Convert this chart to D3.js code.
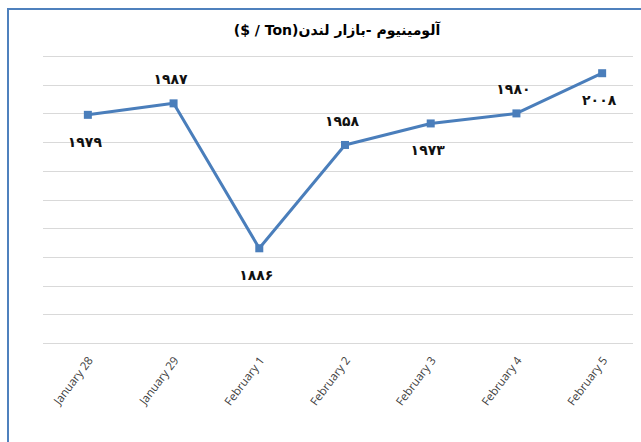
<!DOCTYPE html>
<html>
<head>
<meta charset="utf-8">
<script src="https://cdn.jsdelivr.net/npm/d3@7"></script>
<style>
  body { margin: 0; background: #fff; }
  svg { display: block; }
</style>
</head>
<body>
<div id="chart"></div>
<script>
// chart data
var dates = ["January 28", "January 29", "February 1", "February 2", "February 3", "February 4", "February 5"];
var prices = [1979, 1987, 1886, 1958, 1973, 1980, 2008];
var labelSide = ["below", "above", "below", "above", "below", "above", "below"];
var yTicks = [1820, 1840, 1860, 1880, 1900, 1920, 1940, 1960, 1980, 2000, 2020];
// unit part kept left-to-right inside the rtl title
var title = "آلومینیوم -بازار لندن\u2066($ / Ton)\u2069";

var width = 641, height = 442;

// turn latin digits into persian ones for the data labels
function faDigits(n) {
    return String(n).replace(/\d/g, function (c) { return "۰۱۲۳۴۵۶۷۸۹"[+c]; });
}

var svg = d3.select("#chart")
    .append("svg")
    .attr("width", width)
    .attr("height", height);

// chart frame
svg.append("rect")
    .attr("x", 8)
    .attr("y", 9)
    .attr("width", width + 10)
    .attr("height", height + 10)
    .attr("fill", "#fff")
    .attr("stroke", "#4f81bd")
    .attr("stroke-width", 2);

var x = d3.scalePoint()
    .domain(dates)
    .range([45, 645])
    .padding(0.5);

var y = d3.scaleLinear()
    .domain([1820, 2020])
    .range([343, 56]);

// gridlines
svg.append("g")
    .attr("class", "grid")
    .selectAll("line")
    .data(yTicks)
    .enter()
    .append("line")
    .attr("x1", 43)
    .attr("x2", 633)
    .attr("y1", function (d) { return Math.round(y(d)) + 0.5; })
    .attr("y2", function (d) { return Math.round(y(d)) + 0.5; })
    .attr("stroke", "#d9d9d9")
    .attr("stroke-width", 1.2);

// x axis labels
var xAxis = svg.append("g")
    .attr("transform", "translate(0," + 343 + ")")
    .call(d3.axisBottom(x).tickSize(0).tickPadding(0));
xAxis.select(".domain").remove();
xAxis.selectAll("text")
    .attr("font-family", "Open Sans, sans-serif")
    .attr("font-size", "11.5px")
    .attr("fill", "#404040")
    .attr("text-anchor", "end")
    .attr("dy", "0.35em")
    .attr("transform", "translate(2,15) rotate(-53)");

// title
svg.append("text")
    .attr("x", 337)
    .attr("y", 35)
    .attr("text-anchor", "middle")
    .attr("direction", "rtl")
    .attr("font-family", "DejaVu Sans, sans-serif")
    .attr("font-weight", "bold")
    .attr("font-size", "14px")
    .attr("fill", "#000")
    .text(title);

// line
var line = d3.line()
    .x(function (d, i) { return x(dates[i]); })
    .y(function (d) { return y(d); });

svg.append("path")
    .datum(prices)
    .attr("d", line)
    .attr("fill", "none")
    .attr("stroke", "#4a7ebb")
    .attr("stroke-width", 3)
    .attr("stroke-linejoin", "round");

// markers
svg.selectAll(".marker")
    .data(prices)
    .enter()
    .append("rect")
    .attr("class", "marker")
    .attr("x", function (d, i) { return x(dates[i]) - 4; })
    .attr("y", function (d) { return y(d) - 4; })
    .attr("width", 8)
    .attr("height", 8)
    .attr("fill", "#4a7ebb");

// data labels
svg.selectAll(".label")
    .data(prices)
    .enter()
    .append("text")
    .attr("class", "label")
    .attr("x", function (d, i) { return x(dates[i]) - 3; })
    .attr("y", function (d, i) { return y(d) + (labelSide[i] == "above" ? -24 : 27); })
    .attr("dy", "0.35em")
    .attr("text-anchor", "middle")
    .attr("font-family", "DejaVu Sans, sans-serif")
    .attr("font-weight", "bold")
    .attr("font-size", "14px")
    .attr("fill", "#111")
    .text(function (d) { return faDigits(d); });
</script>
</body>
</html>
